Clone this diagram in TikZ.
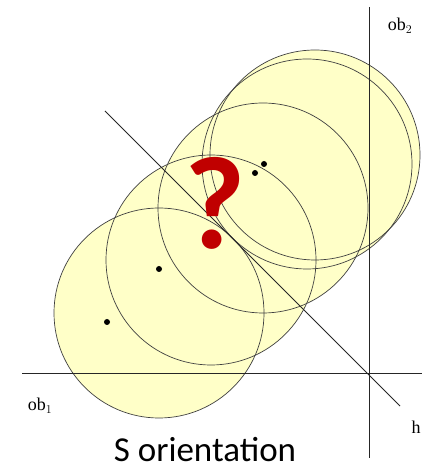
\documentclass[tikz,border=0pt]{standalone}
\usepackage{fontspec}
\setmainfont{Liberation Serif}
\newfontfamily\calib{Carlito}
\usepackage{xcolor}
\usetikzlibrary{positioning,calc}

\definecolor{discfill}{HTML}{FFFFC8}
\definecolor{qred}{HTML}{C00000}
\tikzset{
  rim/.style={draw=black!75, line width=0.7pt},
  axis/.style={draw=black!85, line width=1pt},
  dot/.style={circle, fill=black, inner sep=0pt, minimum size=6pt},
  lbl/.style={font=\fontsize{18}{20}\selectfont, inner sep=0pt}
}

\begin{document}
\begin{tikzpicture}[x=1pt, y=1pt]
    \useasboundingbox (0,0) rectangle (431,470);

    % Centres of the discs
    \coordinate (p1) at (159,157);
    \coordinate (p2) at (211,210);
    \coordinate (p3) at (263,262);
    \coordinate (p4) at (307,306);
    \coordinate (p5) at (315,315);

    % Discs: fill first, then outlines
    \foreach \p in {p1,p2,p3,p4,p5}
        \fill[discfill] (\p) circle[radius=105];
    \foreach \p in {p1,p2,p3,p4,p5}
        \draw[rim] (\p) circle[radius=105];

    % Axes
    \coordinate (oba) at (22,96);
    \coordinate (obb) at (422,96);
    \coordinate (obc) at (369,463);
    \coordinate (obd) at (369,12);
    \coordinate (ha) at (105,359);
    \coordinate (hb) at (400,64);
    \draw[axis] (oba) -- (obb);
    \draw[axis] (obc) -- (obd);
    \draw[axis] (ha) -- (hb);

    % Points
    \node[dot] (d1) at (107,148) {};
    \node[dot] (d2) at (159,201) {};
    \node[dot] (d3) at (255,297) {};
    \node[dot] (d4) at (264,306) {};

    % Labels
    \node[lbl] (lob1) at (40,64) {ob$_1$};
    \node[lbl] (lob2) at (400,444) {ob$_2$};
    \node[lbl] (lh) at (416,43) {h};
    \node[anchor=base, inner sep=0pt, font=\calib\bfseries\fontsize{132}{132}\selectfont, text=qred] (quest) at (215,221) {?};
    \node[anchor=base, inner sep=0pt, font=\calib\fontsize{35}{40}\selectfont] (title) at (205,9) {S orientation};
\end{tikzpicture}
\end{document}
